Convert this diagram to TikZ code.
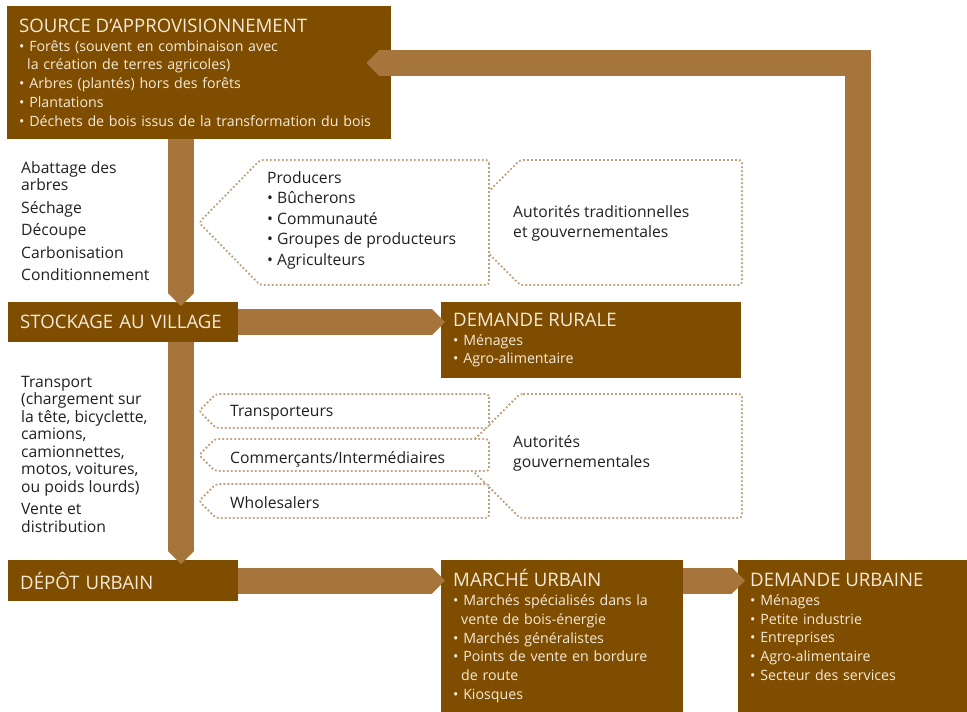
\documentclass[tikz,border=0pt]{standalone}
\usepackage{fontspec}
\setmainfont{Open Sans}
\usetikzlibrary{arrows.meta,calc}

\definecolor{boxbrown}{RGB}{127,77,0}
\definecolor{flowbrown}{RGB}{166,117,59}
\definecolor{dotbrown}{RGB}{190,160,124}
\definecolor{cream}{RGB}{246,234,216}
\definecolor{ink}{RGB}{35,31,32}

\newcommand\headfont{\fontsize{18.6}{21}\selectfont}
\newcommand\itemfont{\fontsize{14.2}{18.75}\selectfont}
\newcommand\sidefont{\fontsize{15.7}{17.5}\selectfont}

\tikzset{
  stage/.style={fill=boxbrown, text=cream, anchor=north west, inner xsep=12pt, inner ysep=0pt, align=left, font=\itemfont},
  flow/.style={draw=flowbrown, line width=26pt, -{Triangle[width=26pt, length=13pt, line width=0pt, color=flowbrown]}},
  frame/.style={draw=dotbrown, line width=1.8pt, dash pattern=on 1.8pt off 2.2pt, rounded corners=3pt},
  side/.style={text=ink, anchor=north west, inner sep=0pt, align=left, font=\sidefont},
}

\begin{document}
\begin{tikzpicture}[x=1pt, y=-1pt]
\useasboundingbox (0,0) rectangle (967,712);

% stages of the chain
\node [stage, minimum width=384, text width=360, minimum height=133] (src) at (7,6)
  {{\headfont SOURCE D’APPROVISIONNEMENT\par}
   • Forêts (souvent en combinaison avec\\\hspace*{8pt}la création de terres agricoles)\\
   • Arbres (plantés) hors des forêts\\• Plantations\\
   • Déchets de bois issus de la transformation du bois};
\node [stage, minimum width=230, text width=206, minimum height=40, font=\headfont] (stock) at (8,302) {STOCKAGE AU VILLAGE};
\node [stage, minimum width=300, text width=276, minimum height=76] (rural) at (441,302)
  {{\headfont DEMANDE RURALE\par}• Ménages\\• Agro-alimentaire};
\node [stage, minimum width=230, text width=206, minimum height=41, font=\headfont] (depot) at (8,560) {DÉPÔT URBAIN};
\node [stage, minimum width=242, text width=218, minimum height=152] (market) at (441,560)
  {{\headfont MARCHÉ URBAIN\par}
   • Marchés spécialisés dans la\\\hspace*{8pt}vente de bois-énergie\\
   • Marchés généralistes\\• Points de vente en bordure\\\hspace*{8pt}de route\\• Kiosques};
\node [stage, minimum width=229, text width=205, minimum height=152] (urban) at (738,560)
  {{\headfont DEMANDE URBAINE\par}
   • Ménages\\• Petite industrie\\• Entreprises\\• Agro-alimentaire\\• Secteur des services\\\mbox{}};

% flows
\coordinate (trunk) at (181,0);
\coordinate (back) at (858,63);
\draw [flow] (src.south -| trunk) to ($(stock.north -| trunk)+(0,4)$);
\draw [flow] (stock.south -| trunk) to ($(depot.north -| trunk)+(0,4)$);
\draw [flow] (stock.east) to ($(rural.west |- stock.east)+(4,0)$);
\draw [flow] (depot.east) to ($(market.west |- depot.east)+(4,0)$);
\draw [flow] (market.east |- depot.east) to ($(urban.west |- depot.east)+(7,0)$);
\draw [flow, line join=miter] (urban.north -| back) -- (back) -- ($(src.east |- back)+(-25,0)$);

% actors
\draw [frame] (520,160) -- (742,160) -- (742,285) -- (520,285) -- (458,222.5) -- cycle;
\draw [frame, fill=white] (489,160) -- (489,285) -- (260,285) -- (199,222.5) -- (260,160) -- cycle;
\draw [frame] (520,394) -- (742,394) -- (742,518) -- (520,518) -- (458,456) -- cycle;
\draw [frame, fill=white] (489,394) -- (489,428) -- (216,428) -- (199,411) -- (216,394) -- cycle;
\draw [frame, fill=white] (489,439) -- (489,471) -- (215,471) -- (199,455) -- (215,439) -- cycle;
\draw [frame, fill=white] (489,484) -- (489,518) -- (216,518) -- (199,501) -- (216,484) -- cycle;

% texts
\node [side] (tasks) at (21,161) {Abattage des\\arbres\\[5pt]Séchage\\[5pt]Découpe\\[5pt]Carbonisation\\[5pt]Conditionnement};
\node [side] (moves) at (21,376) {Transport\\(chargement sur\\la tête, bicyclette,\\camions,\\camionnettes,\\motos, voitures,\\ou poids lourds)\\[5pt]Vente et\\distribution};
\node [side] (prod) at (267,171) {Producers\\[3pt]• Bûcherons\\[3pt]• Communauté\\[3pt]• Groupes de producteurs\\[3pt]• Agriculteurs};
\node [side] (auth) at (513,205) {Autorités traditionnelles\\[3pt]et gouvernementales};
\node [side] (carrier) at (230,405) {Transporteurs};
\node [side] (trader) at (230,451) {Commerçants/Intermédiaires};
\node [side] (whole) at (230,496) {Wholesalers};
\node [side] (gov) at (513,435) {Autorités\\[3pt]gouvernementales};
\end{tikzpicture}
\end{document}
